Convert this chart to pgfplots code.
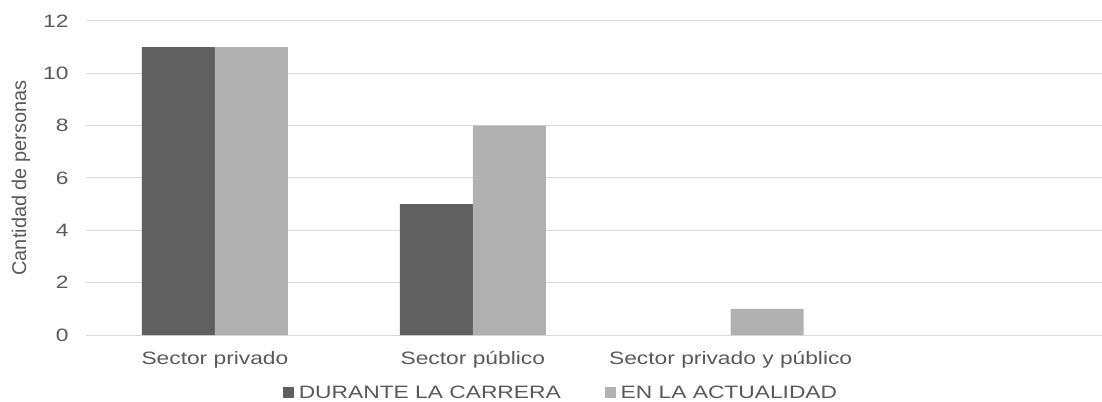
\documentclass[border=0pt]{standalone}
\usepackage{fontspec}
\setmainfont{Liberation Sans}[FakeStretch=1.27]
\newfontfamily\plainfont{Liberation Sans}
\usepackage{pgfplots}
\pgfplotsset{compat=1.18}

\definecolor{darkbar}{HTML}{5F5F5F}
\definecolor{lightbar}{HTML}{B0B0B0}
\definecolor{gridgray}{HTML}{D9D9D9}
\definecolor{txt}{HTML}{595959}

\begin{document}
\begin{tikzpicture}
\path[use as bounding box] (-86bp,-67bp) rectangle (1016bp,335bp);
\begin{axis}[
    at={(0,0)}, anchor=south west,
    scale only axis,
    width=1016bp, height=314bp,
    ybar=0pt, bar width=73bp,
    xmin=-0.5, xmax=3.44,
    ymin=0, ymax=12,
    xtick={0,1,2},
    xticklabels={Sector privado, Sector público, Sector privado y público},
    ytick={0,2,4,6,8,10,12},
    ymajorgrids,
    grid style={gridgray, line width=1bp},
    axis line style={draw=none},
    tick style={draw=none},
    /pgf/number format/assume math mode=true,
    tick label style={font=\fontsize{18}{21}\selectfont, text=txt},
    xticklabel style={yshift=-9bp},
    yticklabel style={xshift=-14bp},
    ylabel={Cantidad de personas},
    every axis y label/.style={at={(axis description cs:-0.064,0.5)}, rotate=90, anchor=center,
        font=\plainfont\fontsize{20}{23}\selectfont, text=txt},
    legend style={at={(axis description cs:0.4675,-0.184)}, anchor=center, draw=none,
        font=\fontsize{18}{21}\selectfont, text=txt, legend columns=2,
        /tikz/every even column/.append style={column sep=42bp}},
    legend image code/.code={\fill[#1,draw=none] (0bp,-5.5bp) rectangle (11bp,5.5bp);},
]
\addplot[fill=darkbar, draw=none] coordinates {(0,11) (1,5)};
\addplot[fill=lightbar, draw=none] coordinates {(0,11) (1,8) (2,1)};
\legend{\,DURANTE LA CARRERA, \,EN LA ACTUALIDAD}
\end{axis}
\end{tikzpicture}
\end{document}
